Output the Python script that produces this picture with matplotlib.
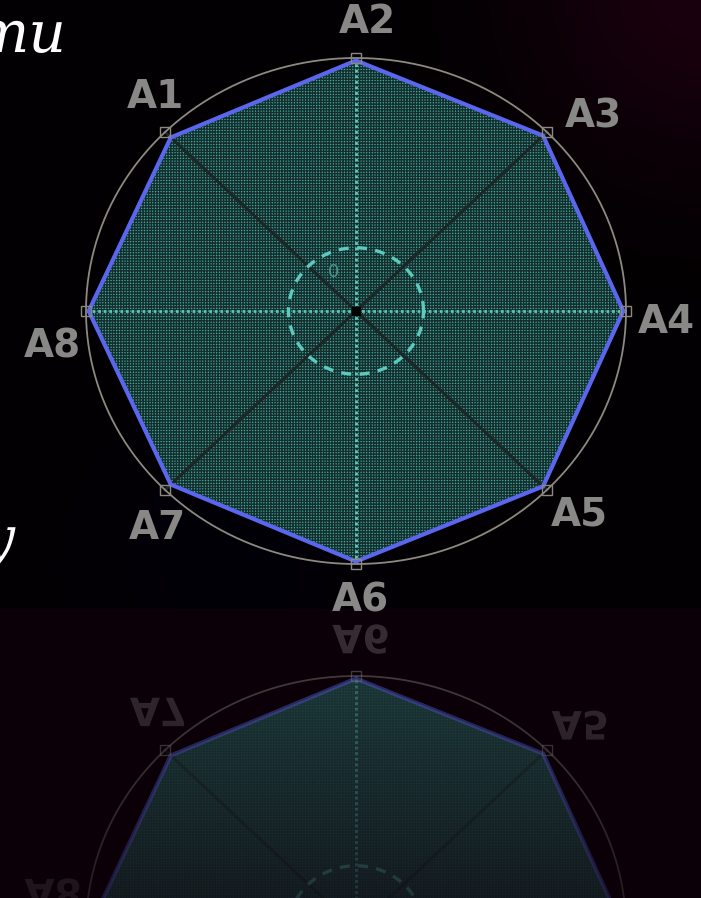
import numpy as np
import matplotlib
matplotlib.use("Agg")
import matplotlib.pyplot as plt
from matplotlib.textpath import TextPath
from matplotlib.patches import PathPatch
from matplotlib.font_manager import FontProperties
from matplotlib.transforms import Affine2D

# ---------------- data ----------------
categories = ["A1", "A2", "A3", "A4", "A5", "A6", "A7", "A8"]
values = [0.97, 0.99, 0.98, 0.99, 0.98, 0.99, 0.97, 0.99]
ring_levels = [0.25, 1.0]
ring_label = "0"
side_texts = ["mu", "y"]

# ---------------- layout ----------------
W, H = 701, 898
CX, CY, RX, RY = 356, 311, 270, 253
MIRROR = 620
SPAN = 1.4
# label anchor positions in unit radar coordinates
label_pos = [(-0.744, 0.846), (0.041, 1.142), (0.878, 0.767), (1.148, -0.043),
             (0.826, -0.806), (0.015, -1.146), (-0.737, -0.858), (-1.126, -0.142)]

plt.rcParams["hatch.linewidth"] = 1.0

fig = plt.figure(figsize=(W / 100, H / 100), dpi=100)
fig.patch.set_facecolor("black")

# background
ax_bg = fig.add_axes([0, 0, 1, 1], zorder=0)
ax_bg.set_xlim(0, W)
ax_bg.set_ylim(H, 0)
ax_bg.axis("off")
yy, xx = np.mgrid[0:H, 0:W]
img = np.zeros((H, W, 3))
img[..., 0] = 2 / 255
img[..., 2] = 2 / 255
d = np.hypot(xx - W, yy + 10)
glow = np.exp(-(d / 170.0) ** 2)
img[..., 0] += glow * 24 / 255
img[..., 2] += glow * 12 / 255
d2 = np.hypot(xx - 230, yy - 560)
g2 = np.exp(-(d2 / 160.0) ** 2)
img[..., 2] += g2 * 6 / 255
low = yy >= 609
img[low] = np.array([12, 0, 8]) / 255
ax_bg.imshow(np.clip(img, 0, 1), extent=(0, W, H, 0), aspect="auto", zorder=0)

# side texts
ax_bg.text(67, 52, side_texts[0], fontsize=42, family="DejaVu Serif", style="italic",
           color="white", ha="right", va="baseline", zorder=2)
ax_bg.text(14, 557, side_texts[1], fontsize=42, family="DejaVu Serif", style="italic",
           color="white", ha="right", va="baseline", zorder=2)


def rect(cy):
    left = (CX - SPAN * RX) / W
    bottom = (H - (cy + SPAN * RY)) / H
    return [left, bottom, 2 * SPAN * RX / W, 2 * SPAN * RY / H]


def radar(ax, a, labels=True):
    ax.set_xlim(-SPAN, SPAN)
    ax.axis("off")
    ax.patch.set_alpha(0)
    n = len(categories)
    theta = np.deg2rad(135 - 45 * np.arange(n))
    v = np.array(values)
    x = v * np.cos(theta)
    y = v * np.sin(theta)
    ax.fill(x, y, facecolor="#45a69c", edgecolor="#142e2e", lw=0,
            hatch="++++++", alpha=a, zorder=1)
    # spokes
    for k, t in enumerate(theta):
        xs = [0, np.cos(t)]
        ys = [0, np.sin(t)]
        if k % 2 == 1:
            ax.plot(xs, ys, color="#5ec8bc", lw=2.0, ls=(0, (1, 1)), alpha=a, zorder=2)
        else:
            ax.plot(xs, ys, color="#1b2726", lw=2.2, alpha=a, zorder=2)
    t = np.linspace(0, 2 * np.pi, 400)
    # inner dashed ring
    r0 = ring_levels[0]
    ax.plot(r0 * np.cos(t), r0 * np.sin(t), color="#5ccabe", lw=2.4,
            ls=(0, (3, 2.5)), alpha=a, zorder=3)
    # outer ring
    r1 = ring_levels[1]
    ax.plot(r1 * np.cos(t), r1 * np.sin(t), color="#8c8a80", lw=1.3, alpha=a, zorder=3)
    # polygon outline
    ax.plot(np.append(x, x[0]), np.append(y, y[0]), color="#5a66ee", lw=3.0,
            alpha=a, zorder=4, solid_joinstyle="miter")
    # end squares
    ax.plot(r1 * np.cos(theta), r1 * np.sin(theta), ls="none", marker="s", ms=7,
            mfc="none", mec="#8c8a80", mew=1.0, alpha=a, zorder=5)
    ax.plot([0], [0], marker="s", ms=6, color="black", ls="none", zorder=6)
    if labels:
        ax.text(-0.085, 0.154, ring_label, fontsize=13, color="#4c9490",
                ha="center", va="center", zorder=5)
        for lab, (ux, uy) in zip(categories, label_pos):
            ax.text(ux, uy, lab, fontsize=28, family="DejaVu Sans", weight="bold",
                    color="#888886", ha="center", va="center", zorder=6, clip_on=False)


ax_main = fig.add_axes(rect(CY), zorder=1)
ax_main.set_ylim(-SPAN, SPAN)
radar(ax_main, 1.0, labels=True)

ax_ref = fig.add_axes(rect(2 * MIRROR - CY), zorder=1)
ax_ref.set_ylim(SPAN, -SPAN)
radar(ax_ref, 0.5, labels=False)

# mirrored labels (vertically flipped glyphs) drawn in pixel space
fp = FontProperties(family="DejaVu Sans", weight="bold")
for lab, (ux, uy) in zip(categories, label_pos):
    px = CX + ux * RX
    py = 2 * MIRROR - (CY - uy * RY)
    if py > H + 30:
        continue
    tp = TextPath((0, 0), lab, size=39, prop=fp)
    bb = tp.get_extents()
    tr = Affine2D().translate(-(bb.x0 + bb.x1) / 2, -(bb.y0 + bb.y1) / 2).translate(px, py)
    patch = PathPatch(tr.transform_path(tp), facecolor="#8e8e8c", lw=0, alpha=0.35, zorder=3)
    ax_bg.add_patch(patch)

# fade overlay for the reflection
ax_ov = fig.add_axes([0, 0, 1, 1], zorder=3)
ax_ov.set_xlim(0, W)
ax_ov.set_ylim(H, 0)
ax_ov.axis("off")
ax_ov.patch.set_alpha(0)
rows = np.linspace(0, 1, 300)
ov = np.zeros((300, 1, 4))
ov[..., 0] = 12 / 255
ov[..., 2] = 8 / 255
ov[:, 0, 3] = 0.05 + 0.55 * rows
ax_ov.imshow(ov, extent=(0, W, H, 609), aspect="auto", interpolation="bilinear")

fig.savefig("out.png", dpi=100, facecolor=fig.get_facecolor())
